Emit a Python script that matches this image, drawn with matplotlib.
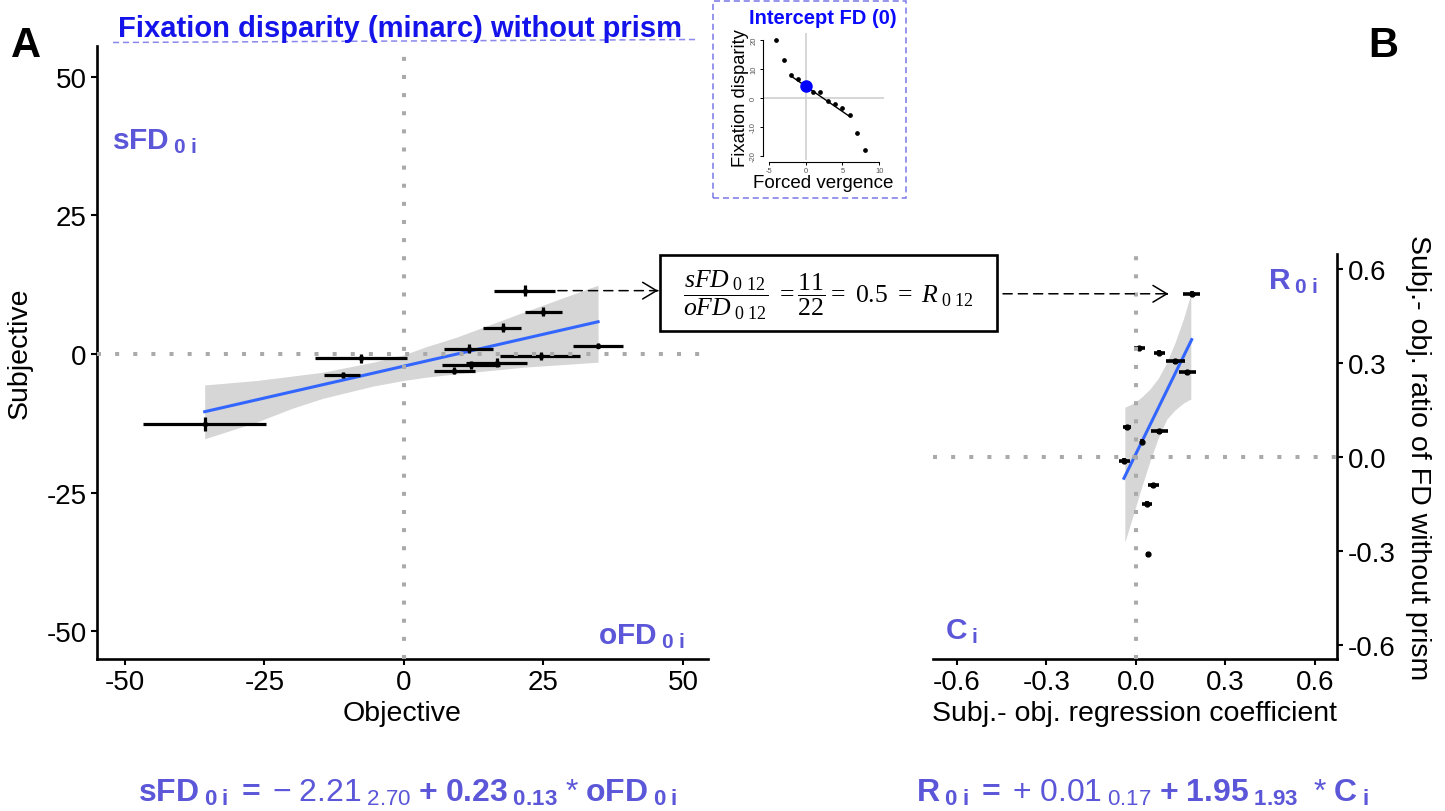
import numpy as np
import matplotlib
matplotlib.use('Agg')
import matplotlib.pyplot as plt
from matplotlib.patches import Rectangle, FancyArrowPatch
from matplotlib.lines import Line2D

plt.rcParams['font.family'] = ['Liberation Sans', 'DejaVu Sans']
plt.rcParams['axes.unicode_minus'] = False
plt.rcParams['mathtext.fontset'] = 'custom'
plt.rcParams['mathtext.rm'] = 'Liberation Serif'
plt.rcParams['mathtext.it'] = 'Liberation Serif:italic'
plt.rcParams['mathtext.bf'] = 'Liberation Sans:bold'
plt.rcParams['mathtext.sf'] = 'Liberation Sans'

# ---------------- data ----------------
# Panel A: objective (x) vs subjective (y) fixation disparity, with x-intervals
A_x = np.array([21.7, 24.9, 17.7, 11.6, 34.8, 24.6, -7.6, -11.0, 16.6, 12.1, 9.0, -35.7])
A_xlo = np.array([16.2, 21.7, 14.2, 7.2, 30.3, 17.2, -15.9, -14.3, 11.1, 6.8, 5.4, -46.7])
A_xhi = np.array([27.1, 28.3, 21.0, 15.9, 39.3, 31.6, 0.6, -7.8, 22.0, 17.2, 12.7, -24.7])
A_y = np.array([11.4, 7.6, 4.7, 0.9, 1.5, -0.4, -0.8, -3.8, -1.6, -2.0, -3.0, -12.6])
A_yerr = np.array([1.0, 0.8, 0.8, 0.8, 0.5, 0.7, 0.8, 0.6, 0.8, 0.8, 0.7, 1.3])
A_intercept = -2.21
A_slope = 0.23
A_band_x = [-35.7, -26.4, -20.0, -14.5, -5.5, -0.1, 4.0, 9.4, 21.4, 34.8]
A_band_lo = [-15.3, -12.3, -9.8, -8.0, -5.8, -4.8, -4.2, -3.6, -2.4, -1.5]
A_band_hi = [-5.6, -4.8, -4.0, -3.3, -1.5, -0.2, 1.3, 3.0, 7.5, 12.4]

# Panel B: regression coefficient (x) vs subj.-obj. ratio (y)
B_x = np.array([0.187, 0.011, 0.078, 0.132, 0.172, 0.078, -0.030, 0.019, -0.040, 0.058, 0.036, 0.041])
B_xlo = np.array([0.159, -0.006, 0.060, 0.100, 0.144, 0.050, -0.043, 0.019, -0.056, 0.041, 0.022, 0.041])
B_xhi = np.array([0.214, 0.029, 0.098, 0.164, 0.202, 0.106, -0.015, 0.019, -0.020, 0.077, 0.053, 0.041])
B_y = np.array([0.521, 0.347, 0.333, 0.306, 0.271, 0.082, 0.095, 0.048, -0.012, -0.090, -0.150, -0.310])
B_yerr = np.full(12, 0.008)
B_intercept = 0.01
B_slope = 1.95
B_band_x = [-0.037, -0.009, 0.019, 0.047, 0.075, 0.103, 0.131, 0.159, 0.184]
B_band_lo = [-0.272, -0.185, -0.097, -0.014, 0.061, 0.120, 0.150, 0.172, 0.185]
B_band_hi = [0.159, 0.171, 0.191, 0.217, 0.251, 0.301, 0.365, 0.440, 0.520]

# Inset: fixation disparity curve
IN_x = [-4, -3, -2, -1, 1, 2, 3, 4, 5, 6, 7, 8]
IN_y = [20, 13, 8, 6.5, 2, 2, -1, -2, -3.5, -6, -12, -18]
IN_fit_range = [-2, 6]
IN_intercept = 4.1
IN_slope = -1.75

A_ticks = [-50, -25, 0, 25, 50]
B_ticks = [-0.6, -0.3, 0.0, 0.3, 0.6]
IN_xticks = [-5, 0, 5, 10]
IN_yticks = [-20, -10, 0, 10, 20]

PURPLE = '#5b57d8'
TITLE_BLUE = '#1414ea'
LINE_BLUE = '#3366ff'
BAND = '#d6d6d6'
DOT_GREY = '#aaaaaa'

W, H = 1445, 812
fig = plt.figure(figsize=(W / 100, H / 100), dpi=100)


def fr(x0, y0, x1, y1):
    return [x0 / W, 1 - y1 / H, (x1 - x0) / W, (y1 - y0) / H]


# ---------------- Panel A ----------------
axA = fig.add_axes(fr(97, 47, 708, 660))
axA.set_xlim(-55, 54.5)
axA.set_ylim(-55, 55.5)
axA.fill_between(A_band_x, A_band_lo, A_band_hi, color=BAND, lw=0, zorder=1)
xs = np.array([A_x.min(), A_x.max()])
axA.plot(xs, A_intercept + A_slope * xs, color=LINE_BLUE, lw=2.2, zorder=2)
axA.errorbar(A_x, A_y, xerr=[A_x - A_xlo, A_xhi - A_x], yerr=A_yerr, fmt='none',
             ecolor='black', elinewidth=2.3, capsize=0, zorder=3)
axA.plot(A_x, A_y, 'o', color='black', ms=3, zorder=3)
axA.axvline(0, color=DOT_GREY, lw=2.9, ls=(0, (1, 3.5)), zorder=4)
axA.axhline(0, color=DOT_GREY, lw=2.9, ls=(0, (1, 3.5)), zorder=4)
for s in ['top', 'right']:
    axA.spines[s].set_visible(False)
for s in ['left', 'bottom']:
    axA.spines[s].set_linewidth(1.9)
axA.set_xticks(A_ticks)
axA.set_yticks(A_ticks)
axA.tick_params(length=4.5, width=1.5, labelsize=20, pad=3, colors='black')
axA.set_xlabel('Objective', fontsize=20.5, labelpad=3)
axA.set_ylabel('Subjective', fontsize=20.5, labelpad=10)
axA.text(0.025, 0.832, r'$\mathbf{sFD}_{\ \mathbf{0\ i}}$', transform=axA.transAxes,
         fontsize=21.5, color=PURPLE, va='baseline', ha='left')
axA.text(0.962, 0.025, r'$\mathbf{oFD}_{\ \mathbf{0\ i}}$', transform=axA.transAxes,
         fontsize=21.5, color=PURPLE, va='baseline', ha='right')

# ---------------- Panel B ----------------
axB = fig.add_axes(fr(933, 255, 1337, 660))
axB.set_xlim(-0.68, 0.674)
axB.set_ylim(-0.645, 0.648)
axB.fill_between(B_band_x, B_band_lo, B_band_hi, color=BAND, lw=0, zorder=1)
xb = np.array([B_x.min(), B_x.max()])
axB.plot(xb, B_intercept + B_slope * xb, color=LINE_BLUE, lw=2.2, zorder=2)
axB.errorbar(B_x, B_y, xerr=[B_x - B_xlo, B_xhi - B_x], yerr=B_yerr, fmt='none',
             ecolor='black', elinewidth=2.6, capsize=0, zorder=3)
axB.plot(B_x, B_y, 'o', color='black', ms=3.5, zorder=3)
axB.axvline(0, color=DOT_GREY, lw=2.9, ls=(0, (1, 3.5)), zorder=4)
axB.axhline(0, color=DOT_GREY, lw=2.9, ls=(0, (1, 3.5)), zorder=4)
for s in ['top', 'left']:
    axB.spines[s].set_visible(False)
for s in ['right', 'bottom']:
    axB.spines[s].set_linewidth(1.9)
axB.yaxis.tick_right()
axB.yaxis.set_label_position('right')
axB.set_xticks(B_ticks)
axB.set_yticks(B_ticks)
axB.set_xticklabels([f'{t:.1f}' for t in B_ticks])
axB.set_yticklabels([f'{t:.1f}' for t in B_ticks])
axB.tick_params(length=4.5, width=1.5, labelsize=20, pad=3, colors='black')
axB.set_xlabel('Subj.- obj. regression coefficient', fontsize=20.5, labelpad=3)
axB.set_ylabel('Subj.- obj. ratio of FD without prism', fontsize=20.5, rotation=270,
               labelpad=26)
axB.text(0.829, 0.914, r'$\mathbf{R}_{\ \mathbf{0\ i}}$', transform=axB.transAxes,
         fontsize=21.5, color=PURPLE, va='baseline', ha='left')
axB.text(0.03, 0.05, r'$\mathbf{C}_{\ \mathbf{i}}$', transform=axB.transAxes,
         fontsize=21.5, color=PURPLE, va='baseline', ha='left')

# ---------------- Inset ----------------
axI = fig.add_axes(fr(762.7, 33.8, 883.7, 161.4))
axI.set_xlim(-5.84, 10.6)
axI.set_ylim(-21.5, 22.5)
axI.axhline(0, color='#cfcfcf', lw=1.2, zorder=1)
axI.axvline(0, color='#cfcfcf', lw=1.2, zorder=1)
axI.plot(IN_x, IN_y, 'o', color='black', ms=2.4, zorder=3)
xf = np.array(IN_fit_range)
axI.plot(xf, IN_intercept + IN_slope * xf, color='black', lw=1.0, zorder=2)
axI.plot([0], [IN_intercept], 'o', color='#0000ff', ms=8, zorder=4)
axI.patch.set_alpha(0)
for s in ['top', 'right']:
    axI.spines[s].set_visible(False)
axI.spines['bottom'].set_bounds(IN_xticks[0], IN_xticks[-1])
axI.spines['left'].set_bounds(IN_yticks[0], IN_yticks[-1])
axI.spines['bottom'].set_position(('outward', 1))
for s in ['left', 'bottom']:
    axI.spines[s].set_linewidth(0.8)
axI.set_xticks(IN_xticks)
axI.set_yticks(IN_yticks)
axI.tick_params(length=2.5, width=0.7, labelsize=5.5, pad=1.5, labelcolor='#555555')
for lab in axI.get_yticklabels():
    lab.set_rotation(90)
    lab.set_va('center')
axI.set_xlabel('Forced vergence', fontsize=13.5, labelpad=0)
axI.set_ylabel('Fixation disparity', fontsize=13.2, labelpad=1)
fig.text(823 / W, 1 - 24 / H, 'Intercept FD (0)', fontsize=14.5, weight='bold',
         color='#0a0aff', ha='center', va='baseline')
fig.add_artist(Rectangle((713 / W, 1 - 199 / H), 193 / W, 197 / H, transform=fig.transFigure,
                         fill=False, ec='#7a78e6', lw=1.1, ls=(0, (4, 2.5))))

# ---------------- titles / letters ----------------
fig.text(400 / W, 1 - 37 / H, 'Fixation disparity (minarc) without prism', fontsize=21,
         weight='bold', color=TITLE_BLUE, ha='center', va='baseline')
fig.add_artist(Line2D([113 / W, 697 / W], [1 - 43.5 / H, 1 - 40.5 / H], transform=fig.transFigure,
                      color='#8a88ea', lw=1.1, ls=(0, (4, 2.5))))
fig.text(26 / W, 1 - 57 / H, 'A', fontsize=30, weight='bold', ha='center', va='baseline')
fig.text(1383 / W, 1 - 57 / H, 'B', fontsize=30, weight='bold', ha='center', va='baseline')

# ---------------- ratio box ----------------
bx0, by0, bw, bh = fr(660, 256, 997, 332)
fig.add_artist(Rectangle((bx0, by0), bw, bh, transform=fig.transFigure, fill=True,
                         fc='white', ec='black', lw=1.9, zorder=5))
fig.text(bx0 + bw / 2, by0 + bh / 2 - 1 / H,
         r'$\dfrac{sFD_{\ \mathrm{0\ 12}}}{oFD_{\ \mathrm{0\ 12}}}\ =\dfrac{11}{22}=\ 0.5\ =\ R_{\ \mathrm{0\ 12}}$',
         fontsize=18.5, ha='center', va='center', zorder=6)


def data_to_fig(ax, x, y):
    return fig.transFigure.inverted().transform(ax.transData.transform((x, y)))


dash = (0, (6, 4))
head = '->,head_length=0.5,head_width=0.3'
# arrow 1 : from highlighted point in A to the box
i1 = int(np.argmax(A_y))
p1 = data_to_fig(axA, A_xhi[i1], A_y[i1])
tip1 = bx0 - 2 / W
fig.add_artist(FancyArrowPatch((p1[0], p1[1]), (tip1, p1[1]), transform=fig.transFigure,
                               arrowstyle='-', ls=dash, lw=1.1, color='black',
                               shrinkA=2, shrinkB=0))
fig.add_artist(FancyArrowPatch((tip1 - 2 / W, p1[1]), (tip1, p1[1]), transform=fig.transFigure,
                               arrowstyle=head, mutation_scale=20, lw=1.1, color='black',
                               shrinkA=0, shrinkB=0))
# arrow 2 : from the box to the highlighted point in B
i2 = int(np.argmax(B_y))
p2 = data_to_fig(axB, B_xlo[i2], B_y[i2])
tip2 = p2[0] - 15 / W
start2 = bx0 + bw + 6 / W
fig.add_artist(FancyArrowPatch((start2, p2[1]), (tip2, p2[1]), transform=fig.transFigure,
                               arrowstyle='-', ls=dash, lw=1.1, color='black',
                               shrinkA=0, shrinkB=0))
fig.add_artist(FancyArrowPatch((tip2 - 2 / W, p2[1]), (tip2, p2[1]), transform=fig.transFigure,
                               arrowstyle=head, mutation_scale=20, lw=1.1, color='black',
                               shrinkA=0, shrinkB=0))

# ---------------- bottom formulas ----------------
fA = (r'$\mathbf{sFD}_{\ \mathbf{0\ i}}\ \mathbf{=}\ \mathsf{-\ 2.21}_{\ \mathsf{2.70}}'
      r'\ \mathbf{+\ 0.23}_{\ \mathbf{0.13}}\ \mathsf{*}\ \mathbf{oFD}_{\ \mathbf{0\ i}}$')
fB = (r'$\mathbf{R}_{\ \mathbf{0\ i}}\ \mathbf{=}\ \mathsf{+\ 0.01}_{\ \mathsf{0.17}}'
      r'\ \mathbf{+\ 1.95}_{\ \mathbf{1.93}}\ \ \mathsf{*}\ \mathbf{C}_{\ \mathbf{i}}$')
fig.text(138 / W, 1 - 802 / H, fA, fontsize=23, color=PURPLE, ha='left', va='baseline')
fig.text(916 / W, 1 - 802 / H, fB, fontsize=23, color=PURPLE, ha='left', va='baseline')

fig.savefig('out.png', dpi=100)
